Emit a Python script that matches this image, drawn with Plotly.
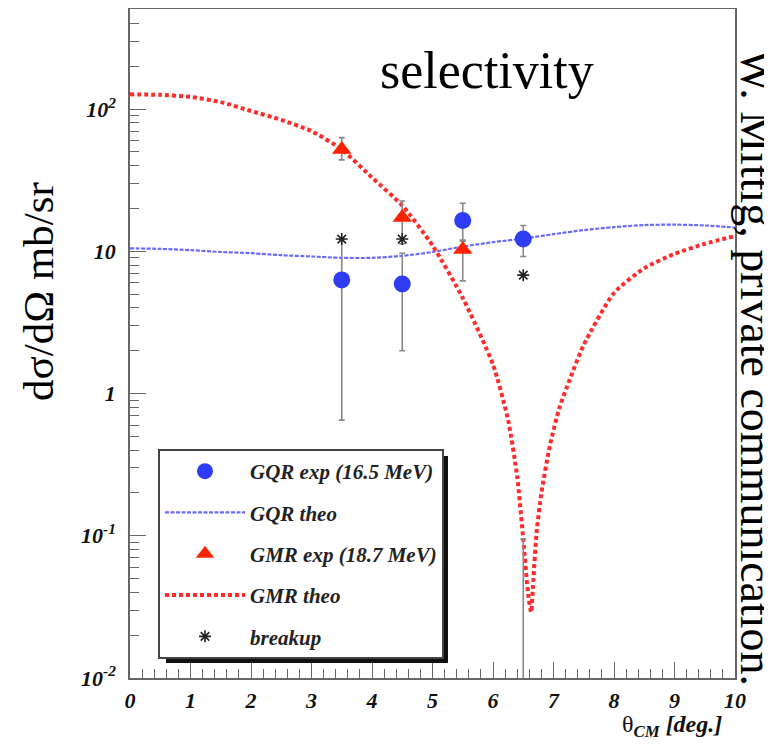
import plotly.graph_objects as go

# ---------------- data ----------------
theta_exp = [3.5, 4.5, 5.5, 6.5]
gqr_exp = [6.3, 5.9, 16.5, 12.2]
gqr_err_plus = [5.9, 3.8, 5.3, 3.0]
gqr_err_minus = [5.65, 3.9, 4.5, 3.0]

gmr_exp = [52.0, 17.3, 10.3, 0.003]
gmr_err_plus = [11.0, 5.3, 1.5, 0.092]
gmr_err_minus = [8.0, 6.0, 4.1, 0.0]

theta_breakup = [3.5, 4.5, 6.5]
breakup = [12.2, 12.2, 6.8]

theta_gqr_theo = [0, 0.5, 1, 1.5, 2, 2.5, 3, 3.5, 4, 4.5, 5, 5.5, 6, 6.5, 7, 7.5, 8, 8.5, 9, 9.5, 10]
gqr_theo = [10.5, 10.4, 10.2, 9.9, 9.7, 9.4, 9.2, 9.0, 9.0, 9.3, 9.9, 10.8, 11.6, 12.3, 13.2, 14.1, 14.8, 15.3, 15.4, 15.2, 14.7]

theta_gmr_theo = [0, 0.5, 1, 1.5, 2, 2.5, 3, 3.5, 4, 4.5, 5, 5.5, 6, 6.25, 6.4, 6.5, 6.58, 6.63,
                  6.66, 6.72, 6.8, 6.94, 7.1, 7.27, 7.5, 8, 8.5, 9, 9.5, 10]
gmr_theo = [127, 126, 122, 112, 97, 84, 70, 52, 33, 21, 11, 4.7, 1.6, 0.65, 0.26, 0.094, 0.039, 0.029,
            0.044, 0.105, 0.2, 0.43, 0.8, 1.26, 2.2, 5.1, 7.6, 9.6, 11.3, 12.8]

y_tickvals = [0.01, 0.1, 1, 10, 100]
y_ticktext = ["10<sup>-2</sup>", "10<sup>-1</sup>", "1", "10", "10<sup>2</sup>"]
x_tickvals = [0, 1, 2, 3, 4, 5, 6, 7, 8, 9, 10]

# ---------------- figure ----------------
# the page body adds an 8px offset; size the figure so the plot area lands
# at screen x 130..735, y 9..678
OFF = 8
W, H = 772 - OFF, 750 - OFF
PL, PR, PT, PB = 130, 735, 9, 678          # plot area in screen pixels
ML, MR, MT, MB = PL - OFF, OFF + W - PR, PT - OFF, OFF + H - PB
PW, PH = PR - PL, PB - PT


def px(x):
    return (x - PL) / PW


def py(y):
    return (PB - y) / PH


tick_font = dict(family="Liberation Serif", size=22, color="#111", weight="bold", style="italic")
err_style = dict(type="data", symmetric=False, color="#888", thickness=1.6, width=3)

fig = go.Figure()

fig.add_trace(go.Scatter(
    x=theta_gqr_theo, y=gqr_theo, mode="lines", name="GQR theo",
    line=dict(color="#6a6aff", width=2.2, dash="4px,1.5px", shape="spline", smoothing=0.8),
    legendgroup="b", legendrank=2))
fig.add_trace(go.Scatter(
    x=theta_gmr_theo, y=gmr_theo, mode="lines", name="GMR theo",
    line=dict(color="#ff2a2a", width=4, dash="4px,3px", shape="spline", smoothing=0.6),
    legendgroup="d", legendrank=4))
fig.add_trace(go.Scatter(
    x=theta_exp, y=gqr_exp, mode="markers", name="GQR exp (16.5 MeV)",
    marker=dict(symbol="circle", size=17, color="#2f3cf5"),
    error_y=dict(array=gqr_err_plus, arrayminus=gqr_err_minus, **err_style),
    legendgroup="a", legendrank=1))
fig.add_trace(go.Scatter(
    x=theta_exp, y=gmr_exp, mode="markers", name="GMR exp (18.7 MeV)",
    marker=dict(symbol="triangle-up", size=17, color="#ff2000"),
    error_y=dict(array=gmr_err_plus, arrayminus=gmr_err_minus, **err_style),
    legendgroup="c", legendrank=3))
fig.add_trace(go.Scatter(
    x=theta_breakup, y=breakup, mode="markers", name="breakup",
    marker=dict(symbol="asterisk-open", size=10, color="#222", line=dict(color="#222", width=1.6)),
    legendgroup="e", legendrank=5))

axis_common = dict(
    showline=True, linecolor="#666", linewidth=1.5, mirror=True,
    ticks="inside", tickcolor="#666", tickwidth=1.3, ticklen=16,
    showgrid=False, zeroline=False, tickfont=tick_font, automargin=False,
)

fig.update_xaxes(range=[0, 10], tickmode="array", tickvals=x_tickvals,
                 minor=dict(dtick=0.2, ticks="inside", ticklen=9, tickcolor="#666", tickwidth=1.2, showgrid=False),
                 ticklabelstandoff=2, **axis_common)
fig.update_yaxes(type="log", range=[-2, 2.704], tickmode="array", tickvals=y_tickvals, ticktext=y_ticktext,
                 minor=dict(dtick="D1", ticks="inside", ticklen=9, tickcolor="#666", tickwidth=1.2, showgrid=False),
                 ticklabelstandoff=8, **axis_common)

# legend shadow
fig.add_shape(type="rect", xref="paper", yref="paper",
              x0=px(166), x1=px(448), y0=py(663), y1=py(456),
              fillcolor="#111", line=dict(width=0), layer="above")

ann_common = dict(xref="paper", yref="paper", showarrow=False, xanchor="center", yanchor="middle")

fig.update_layout(
    width=W, height=H, autosize=False,
    margin=dict(l=ML, r=MR, t=MT, b=MB, pad=0),
    paper_bgcolor="white", plot_bgcolor="white",
    showlegend=True,
    legend=dict(x=px(158), y=py(449), xanchor="left", yanchor="top",
                bgcolor="white", bordercolor="#444", borderwidth=2,
                font=dict(family="Liberation Serif", size=21, color="#222", weight="bold", style="italic"),
                traceorder="grouped", tracegroupgap=11, itemwidth=80),
    annotations=[
        dict(text="selectivity", x=px(487), y=py(70),
             font=dict(family="Liberation Serif", size=52, color="black"), **ann_common),
        dict(text="W. Mittig, private communication.", x=px(757), y=py(367), textangle=90,
             font=dict(family="Liberation Serif", size=46, color="black"), **ann_common),
        dict(text="dσ/dΩ mb/sr", x=px(38), y=py(292), textangle=-90,
             font=dict(family="Liberation Serif", size=43, color="black"), **ann_common),
        dict(text="θ<sub><b><i>CM</i></b></sub> <b><i>[deg.]</i></b>", x=px(672), y=py(726),
             font=dict(family="Liberation Serif", size=24, color="#111"), **ann_common),
    ],
)

fig.write_html("out.html")
